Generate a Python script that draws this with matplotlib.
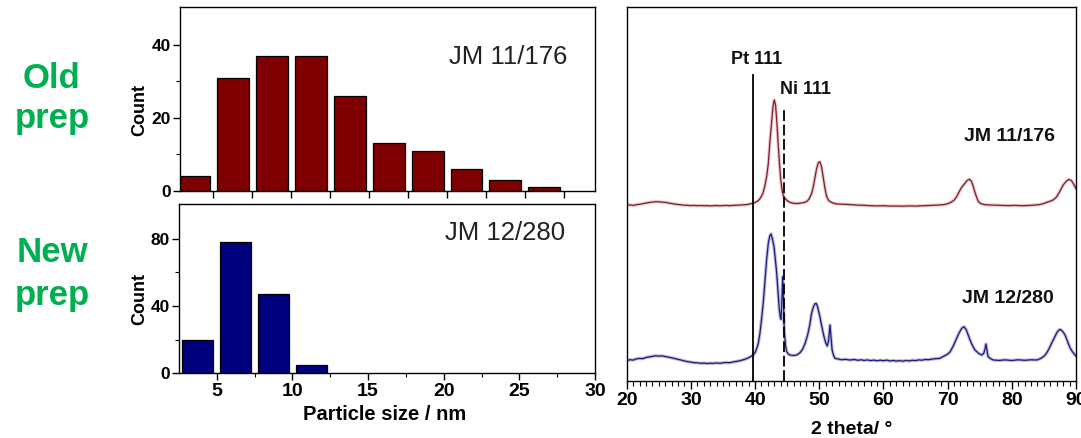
import matplotlib
matplotlib.use("Agg")
import matplotlib.pyplot as plt
from matplotlib import font_manager

# font setup
_names = {f.name for f in font_manager.fontManager.ttflist}
NARROW = 'Liberation Sans Narrow' if 'Liberation Sans Narrow' in _names else 'Liberation Sans'
plt.rcParams['font.family'] = ['Liberation Sans', 'DejaVu Sans']

# particle size histograms (bin centres in nm, counts)
bins_old = [3.75, 6.25, 8.75, 11.25, 13.75, 16.25, 18.75, 21.25, 23.75, 26.25]
counts_old = [4, 31, 37, 37, 26, 13, 11, 6, 3, 1]
bins_new = [3.75, 6.25, 8.75, 11.25]
counts_new = [20, 78, 47, 5]

# XRD patterns (2 theta in degrees, intensity a.u.)
tt_old = [20.0, 20.5, 21.0, 21.5, 22.0, 22.5, 23.0, 23.5, 24.0, 24.5, 25.0, 25.5, 26.0, 26.5,
          27.0, 27.5, 28.0, 28.5, 29.0, 29.5, 30.0, 30.5, 31.0, 31.5, 32.0, 32.5, 33.0, 33.5,
          34.0, 34.5, 35.0, 35.5, 36.0, 36.5, 37.0, 37.5, 38.0, 38.5, 39.0, 39.5, 40.0, 40.5,
          40.8, 41.2, 41.5, 41.8, 42.06, 42.3, 42.6, 42.8, 43.0, 43.2, 43.37, 43.6, 43.8, 44.0,
          44.2, 44.4, 44.66, 45.0, 45.5, 46.0, 46.5, 47.0, 47.5, 48.0, 48.4, 48.8, 49.07, 49.35,
          49.6, 49.85, 50.1, 50.35, 50.6, 50.9, 51.16, 51.5, 52.0, 52.5, 53.0, 54.0, 55.0, 56.0,
          57.0, 58.0, 59.0, 60.0, 61.0, 62.0, 63.0, 64.0, 65.0, 66.0, 67.0, 68.0, 69.0, 69.5,
          70.0, 70.5, 71.0, 71.4, 71.8, 72.2, 72.7, 73.0, 73.4, 73.7, 74.0, 74.3, 74.6, 74.8,
          75.2, 75.8, 76.6, 77.5, 78.5, 79.5, 80.5, 81.5, 82.5, 83.5, 84.2, 84.9, 85.5, 86.0,
          86.5, 87.0, 87.5, 88.0, 88.5, 88.9, 89.3, 89.6, 90.0]
int_old = [175.5, 175.8, 175.3, 176.0, 176.4, 177.0, 177.6, 178.2, 178.6, 179.0, 178.9, 178.6, 178.3, 177.7,
           177.2, 176.6, 176.2, 175.8, 175.5, 175.4, 175.1, 175.3, 175.0, 175.2, 174.9, 175.1, 174.8, 175.0,
           175.2, 174.9, 175.1, 175.3, 175.0, 175.3, 175.4, 175.6, 175.8, 176.0, 176.5, 177.2, 178.2, 180.0,
           182.4, 187.0, 194.0, 204.0, 217.0, 238.0, 260.7, 275.0, 280.7, 275.0, 260.7, 238.0, 217.0, 201.0,
           190.7, 185.0, 182.4, 180.0, 178.2, 177.4, 177.2, 177.5, 178.0, 179.0, 181.5, 187.0, 194.0, 204.0,
           212.4, 218.0, 219.0, 214.0, 204.0, 192.0, 184.0, 180.0, 178.0, 177.0, 176.6, 176.4, 176.0, 175.6,
           175.4, 175.0, 174.8, 175.0, 174.6, 174.7, 174.5, 174.8, 174.6, 174.9, 175.1, 175.4, 175.8, 176.2,
           177.0, 178.3, 180.5, 184.0, 189.0, 193.5, 197.4, 200.0, 201.4, 199.5, 194.0, 187.5, 182.0, 179.0,
           177.0, 176.0, 175.7, 175.5, 175.3, 175.1, 175.3, 175.0, 175.2, 175.6, 176.0, 177.0, 178.5, 179.5,
           181.0, 184.0, 189.5, 195.7, 199.5, 201.4, 200.0, 197.0, 192.0]

tt_new = [20.0, 20.5, 21.0, 21.5, 22.0, 22.5, 23.0, 23.5, 24.0, 24.5, 25.0, 25.5, 26.0, 26.5,
          27.0, 27.5, 28.0, 28.5, 29.0, 29.5, 30.0, 30.5, 31.0, 31.5, 32.0, 32.5, 33.0, 33.5,
          34.0, 34.5, 35.0, 35.5, 36.0, 36.5, 37.0, 37.5, 38.0, 38.5, 39.0, 39.4, 39.7, 40.0,
          40.3, 40.5, 40.75, 41.0, 41.3, 41.55, 41.8, 42.06, 42.3, 42.48, 42.7, 42.95, 43.15, 43.37,
          43.6, 43.78, 43.95, 44.04, 44.15, 44.3, 44.42, 44.55, 44.75, 44.93, 45.2, 45.44, 46.0, 46.5,
          47.0, 47.4, 47.8, 48.2, 48.5, 48.8, 49.1, 49.35, 49.5, 49.7, 50.1, 50.4, 50.74, 51.0,
          51.25, 51.45, 51.67, 51.85, 52.0, 52.25, 52.45, 53.0, 53.5, 54.0, 54.8, 55.5, 56.0, 56.5,
          57.0, 57.5, 58.0, 58.5, 59.0, 59.5, 60.0, 60.5, 61.0, 61.5, 62.0, 62.5, 63.0, 63.5,
          64.0, 64.5, 65.0, 65.5, 66.0, 66.5, 67.0, 67.5, 68.0, 68.8, 69.4, 70.0, 70.4, 70.9,
          71.4, 71.8, 72.2, 72.55, 72.9, 73.2, 73.6, 74.0, 74.26, 74.8, 75.3, 75.6, 75.8, 75.97,
          76.15, 76.3, 76.7, 77.1, 78.0, 79.0, 80.0, 81.0, 82.0, 83.0, 83.9, 84.6, 85.0, 85.4,
          85.8, 86.2, 86.7, 87.1, 87.5, 87.9, 88.3, 88.7, 89.1, 89.5, 89.84, 90.0]
int_new = [20.0, 21.0, 20.6, 21.8, 22.3, 22.0, 23.2, 23.8, 24.3, 24.9, 24.6, 24.8, 24.2, 23.6,
           22.9, 22.1, 21.2, 20.4, 19.8, 19.0, 18.6, 18.0, 17.9, 17.4, 17.6, 17.2, 17.5, 17.3,
           17.8, 17.4, 17.9, 18.2, 18.0, 18.6, 19.2, 19.8, 20.6, 21.6, 23.0, 24.5, 25.7, 28.0,
           33.0, 37.4, 47.0, 60.7, 80.0, 100.7, 121.0, 137.4, 145.0, 146.7, 142.0, 134.0, 122.0, 107.4,
           86.0, 70.7, 63.0, 61.4, 75.0, 104.0, 80.0, 50.0, 35.0, 29.0, 26.5, 25.7, 25.2, 25.7,
           28.0, 31.5, 37.4, 46.0, 55.0, 67.4, 74.0, 77.0, 77.4, 75.0, 64.0, 54.0, 44.0, 38.0,
           34.7, 40.0, 55.7, 42.0, 30.7, 25.0, 22.4, 21.6, 20.9, 21.4, 20.7, 21.2, 20.4, 20.9,
           20.3, 20.8, 20.1, 20.6, 19.9, 20.5, 20.0, 20.6, 19.7, 20.2, 19.6, 20.1, 19.5, 20.2,
           19.8, 20.4, 20.1, 20.8, 20.5, 21.2, 21.0, 21.6, 21.9, 22.4, 24.5, 26.5, 29.0, 35.0,
           42.4, 48.0, 52.4, 54.0, 51.0, 45.7, 39.0, 33.5, 30.7, 27.5, 25.7, 27.0, 31.0, 36.7,
           30.0, 24.0, 22.0, 20.7, 20.3, 20.8, 20.2, 20.9, 20.4, 20.9, 20.7, 22.5, 24.5, 27.4,
           32.0, 37.5, 44.0, 49.0, 51.4, 49.5, 45.7, 39.0, 32.4, 28.5, 25.7, 24.8]

pt_pos = 39.7
ni_pos = 44.5

GREEN = '#00b050'
W, H = 1081, 438


def axes_box(l, t, r, b):
    # pixel box -> figure fraction
    return [l / W, 1 - b / H, (r - l) / W, (b - t) / H]


fig = plt.figure(figsize=(W / 100, H / 100), dpi=100)

ax1 = fig.add_axes(axes_box(180, 6.7, 595, 190.7))
ax2 = fig.add_axes(axes_box(179, 204.3, 595, 373.3))
ax3 = fig.add_axes(axes_box(626.7, 7.3, 1076, 380.7))

# --- histograms
ax1.bar(bins_old, counts_old, width=2.05, color='#7f0000', edgecolor='black', linewidth=0.9)
ax2.bar(bins_new, counts_new, width=2.05, color='#00007f', edgecolor='black', linewidth=0.9)

ax1.set_xlim(2.85, 29.5)
ax1.set_ylim(0, 50.5)
ax1.set_xticks([5, 7.5, 10, 12.5, 15, 17.5, 20, 22.5, 25, 27.5])
ax1.set_xticklabels([])
ax1.set_yticks([0, 20, 40])
ax1.set_yticks([10, 30], minor=True)

ax2.set_xlim(2.5, 30)
ax2.set_ylim(0, 100.5)
ax2.set_xticks([5, 10, 15, 20, 25, 30])
ax2.set_xticks([7.5, 12.5, 17.5, 22.5, 27.5], minor=True)
ax2.set_yticks([0, 40, 80])
ax2.set_yticks([20, 60], minor=True)

for ax in (ax1, ax2):
    ax.tick_params(which='major', direction='out', length=5, width=1, labelsize=12.5, pad=1.5)
    ax.tick_params(which='minor', direction='out', length=3, width=0.8)
    for lab in ax.get_yticklabels() + ax.get_xticklabels():
        lab.set_fontweight('bold')
    for s in ax.spines.values():
        s.set_linewidth(1)
ax2.tick_params(axis='x', labelsize=14, pad=2)
for lab in ax2.get_xticklabels():
    lab.set_fontweight('bold')

ax1.text(0.79, 0.727, 'JM 11/176', transform=ax1.transAxes, ha='center', va='center',
         fontsize=18.5, color='#222222')
ax2.text(0.785, 0.833, 'JM 12/280', transform=ax2.transAxes, ha='center', va='center',
         fontsize=18.5, color='#222222')

fig.text(140 / W, 1 - 110 / H, 'Count', rotation=90, ha='center', va='center',
         fontsize=13, fontweight='bold')
fig.text(140 / W, 1 - 299 / H, 'Count', rotation=90, ha='center', va='center',
         fontsize=13, fontweight='bold')
fig.text(385 / W, 1 - 415 / H, 'Particle size / nm', ha='center', va='center',
         fontsize=14.5, fontweight='bold')

# --- XRD patterns
ax3.plot(tt_old, int_old, color='#e0a0a8', linewidth=2.4, alpha=0.6)
ax3.plot(tt_old, int_old, color='#7a1f2b', linewidth=0.9)
ax3.plot(tt_new, int_new, color='#9090c8', linewidth=2.4, alpha=0.6)
ax3.plot(tt_new, int_new, color='#1c1c78', linewidth=0.9)

ax3.plot([pt_pos, pt_pos], [0, 305.7], color='black', linewidth=1.3)
ax3.plot([ni_pos, ni_pos], [0, 270.7], color='black', linewidth=1.3, dashes=(6, 2))

ax3.text(40.25, 320.7, 'Pt 111', ha='center', va='center', fontsize=13, fontweight='bold',
         color='#111111')
ax3.text(47.9, 290.7, 'Ni 111', ha='center', va='center', fontsize=13, fontweight='bold',
         color='#111111')
ax3.text(79.7, 244, 'JM 11/176', ha='center', va='center', fontsize=14, fontweight='bold',
         color='#111111')
ax3.text(79.45, 82.4, 'JM 12/280', ha='center', va='center', fontsize=14, fontweight='bold',
         color='#111111')

ax3.set_xlim(20, 90)
ax3.set_ylim(0, 373.4)
ax3.set_yticks([])
ax3.set_xticks(range(20, 91, 10))
ax3.set_xticks(range(20, 91, 1), minor=True)
ax3.tick_params(which='major', direction='out', length=6, width=1, labelsize=14, pad=2)
ax3.tick_params(which='minor', direction='out', length=3.5, width=0.8)
for lab in ax3.get_xticklabels():
    lab.set_fontweight('bold')
    lab.set_family(NARROW)
for s in ax3.spines.values():
    s.set_linewidth(1)
ax3.set_xlabel('2 theta/ °', fontsize=14, fontweight='bold', family=NARROW, labelpad=9)

# --- row labels
fig.text(52 / W, 1 - 88 / H, 'Old', ha='center', va='baseline', fontsize=25,
         fontweight='bold', color=GREEN)
fig.text(52 / W, 1 - 128 / H, 'prep', ha='center', va='baseline', fontsize=25,
         fontweight='bold', color=GREEN)
fig.text(52 / W, 1 - 262 / H, 'New', ha='center', va='baseline', fontsize=25,
         fontweight='bold', color=GREEN)
fig.text(52 / W, 1 - 305 / H, 'prep', ha='center', va='baseline', fontsize=25,
         fontweight='bold', color=GREEN)

fig.savefig('out.png', dpi=100)
